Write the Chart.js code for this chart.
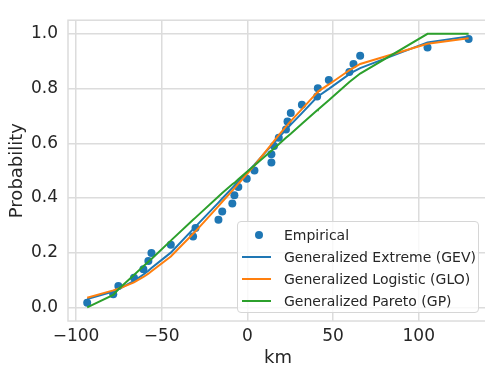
<!DOCTYPE html>
<html>
<head>
<meta charset="utf-8">
<script src="https://cdn.jsdelivr.net/npm/chart.js@4.4.1/dist/chart.umd.min.js"></script>
<style>
  html, body { margin: 0; padding: 0; background: #fff; overflow: hidden; }
  #wrap { position: relative; width: 488px; height: 367px; }
  #legend {
    position: absolute; left: 237px; top: 221px; width: 242px; height: 92px;
    box-sizing: border-box; border: 1px solid #d6d6d6; border-radius: 4px;
    background: rgba(255, 255, 255, 0.8);
    font-family: "DejaVu Sans", sans-serif; font-size: 14px; color: #262626;
  }
  .row { position: absolute; left: 0; height: 22px; line-height: 22px; white-space: nowrap; }
  .row span.txt { position: absolute; left: 46px; top: 0; }
  .row i { position: absolute; display: block; }
</style>
</head>
<body>
<div id="wrap">
  <canvas id="chart" width="488" height="367"></canvas>
  <div id="legend"></div>
</div>
<script>
// sorted observations (km) and plotting-position probabilities
const kmValues = [-93.5, -78.3, -75.3, -66.2, -60.7, -57.8, -56.0, -44.7, -31.7, -30.3,
                  -16.9, -14.7, -8.8, -7.6, -5.3, -0.4, 4.1, 14.0, 14.0, 15.5,
                  18.3, 22.5, 23.4, 25.3, 31.8, 40.7, 41.1, 47.5, 59.5, 61.9,
                  65.8, 105.1, 129.1];
const empirical = [0.017, 0.048, 0.078, 0.108, 0.139, 0.169, 0.199, 0.229, 0.259, 0.290,
                   0.320, 0.350, 0.380, 0.410, 0.440, 0.470, 0.500, 0.530, 0.560, 0.590,
                   0.620, 0.650, 0.680, 0.711, 0.741, 0.771, 0.801, 0.831, 0.861, 0.890,
                   0.920, 0.950, 0.981];
// fitted CDFs evaluated at the same km values
const gevCdf = [0.030, 0.058, 0.066, 0.097, 0.120, 0.134, 0.144, 0.200, 0.286, 0.295,
                0.383, 0.398, 0.437, 0.445, 0.460, 0.492, 0.522, 0.591, 0.591, 0.602,
                0.621, 0.650, 0.656, 0.668, 0.710, 0.769, 0.771, 0.799, 0.853, 0.862,
                0.875, 0.969, 0.990];
const gloCdf = [0.035, 0.062, 0.068, 0.091, 0.111, 0.123, 0.132, 0.186, 0.269, 0.278,
                0.370, 0.386, 0.427, 0.435, 0.452, 0.486, 0.519, 0.596, 0.596, 0.608,
                0.630, 0.661, 0.667, 0.681, 0.725, 0.786, 0.789, 0.815, 0.867, 0.876,
                0.890, 0.964, 0.984];
const gpCdf = [0.000, 0.045, 0.066, 0.118, 0.150, 0.167, 0.177, 0.244, 0.320, 0.328,
               0.405, 0.418, 0.450, 0.455, 0.468, 0.495, 0.519, 0.573, 0.573, 0.581,
               0.596, 0.620, 0.625, 0.635, 0.671, 0.721, 0.723, 0.757, 0.824, 0.836,
               0.855, 1.000, 1.000];
const xTickValues = [-100, -50, 0, 50, 100];
const yTickValues = [0.0, 0.2, 0.4, 0.6, 0.8, 1.0];

const FONT = "'DejaVu Sans', sans-serif";
const TEXT = "#262626";
const GRID = "#dcdcdc";

function pts(ys) {
    return kmValues.map((x, i) => ({ x: x, y: ys[i] }));
}

const datasets = [
    { label: "Empirical", data: pts(empirical), showLine: false, order: 4,
      pointRadius: 4, pointHoverRadius: 4, pointBorderWidth: 0,
      backgroundColor: "#1f77b4", borderColor: "#1f77b4" },
    { label: "Generalized Extreme (GEV)", data: pts(gevCdf), showLine: true, order: 3,
      pointRadius: 0, borderWidth: 2, borderColor: "#1f77b4", tension: 0 },
    { label: "Generalized Logistic (GLO)", data: pts(gloCdf), showLine: true, order: 2,
      pointRadius: 0, borderWidth: 2, borderColor: "#ff7f0e", tension: 0 },
    { label: "Generalized Pareto (GP)", data: pts(gpCdf), showLine: true, order: 1,
      pointRadius: 0, borderWidth: 2, borderColor: "#2ca02c", tension: 0 }
];

// frame round the plot area (seaborn whitegrid spines)
const frame = {
    id: "frame",
    beforeDatasetsDraw(chart) {
        const a = chart.chartArea, ctx = chart.ctx;
        ctx.save();
        ctx.strokeStyle = GRID;
        ctx.lineWidth = 1.5;
        ctx.strokeRect(a.left, a.top, a.right - a.left, a.bottom - a.top);
        ctx.restore();
    }
};

const minus = v => (v < 0 ? "\u2212" + Math.abs(v) : String(v));

new Chart(document.getElementById("chart").getContext("2d"), {
    type: "scatter",
    data: { datasets: datasets },
    plugins: [frame],
    options: {
        responsive: false,
        animation: false,
        layout: { autoPadding: false, padding: { top: 6, right: 0, left: 0, bottom: 0 } },
        plugins: { legend: { display: false }, tooltip: { enabled: false } },
        scales: {
            x: {
                type: "linear", min: -104.7, max: 140.4,
                afterBuildTicks: axis => { axis.ticks = xTickValues.map(v => ({ value: v })); },
                afterFit: axis => { axis.height = 46; },
                grid: { color: GRID, lineWidth: 1.5, drawTicks: false },
                border: { display: false },
                ticks: { padding: 5, color: TEXT, font: { family: FONT, size: 17 },
                         maxRotation: 0, callback: v => minus(v) },
                title: { display: true, text: "km", color: TEXT, padding: 0,
                         font: { family: FONT, size: 18, lineHeight: 1 } }
            },
            y: {
                type: "linear", min: -0.05, max: 1.05,
                afterBuildTicks: axis => { axis.ticks = yTickValues.map(v => ({ value: v })); },
                afterFit: axis => { axis.width = 68; },
                grid: { color: GRID, lineWidth: 1.5, drawTicks: false },
                border: { display: false },
                ticks: { padding: 10, color: TEXT, font: { family: FONT, size: 17 },
                         callback: v => v.toFixed(1) },
                title: { display: true, text: "Probability", color: TEXT,
                         padding: { top: 7, bottom: 0 },
                         font: { family: FONT, size: 18 } }
            }
        }
    }
});

// legend box inside the axes, built from the datasets
const legend = document.getElementById("legend");
datasets.forEach((ds, i) => {
    const row = document.createElement("div");
    row.className = "row";
    row.style.top = (2 + i * 22) + "px";
    row.style.width = "100%";
    const mark = document.createElement("i");
    if (ds.showLine) {
        mark.style.cssText = "left:4px;top:10px;width:29px;height:2px;background:" + ds.borderColor;
    } else {
        mark.style.cssText = "left:17px;top:7px;width:8px;height:8px;border-radius:50%;background:" + ds.backgroundColor;
    }
    const txt = document.createElement("span");
    txt.className = "txt";
    txt.textContent = ds.label;
    row.appendChild(mark);
    row.appendChild(txt);
    legend.appendChild(row);
});
</script>
</body>
</html>
